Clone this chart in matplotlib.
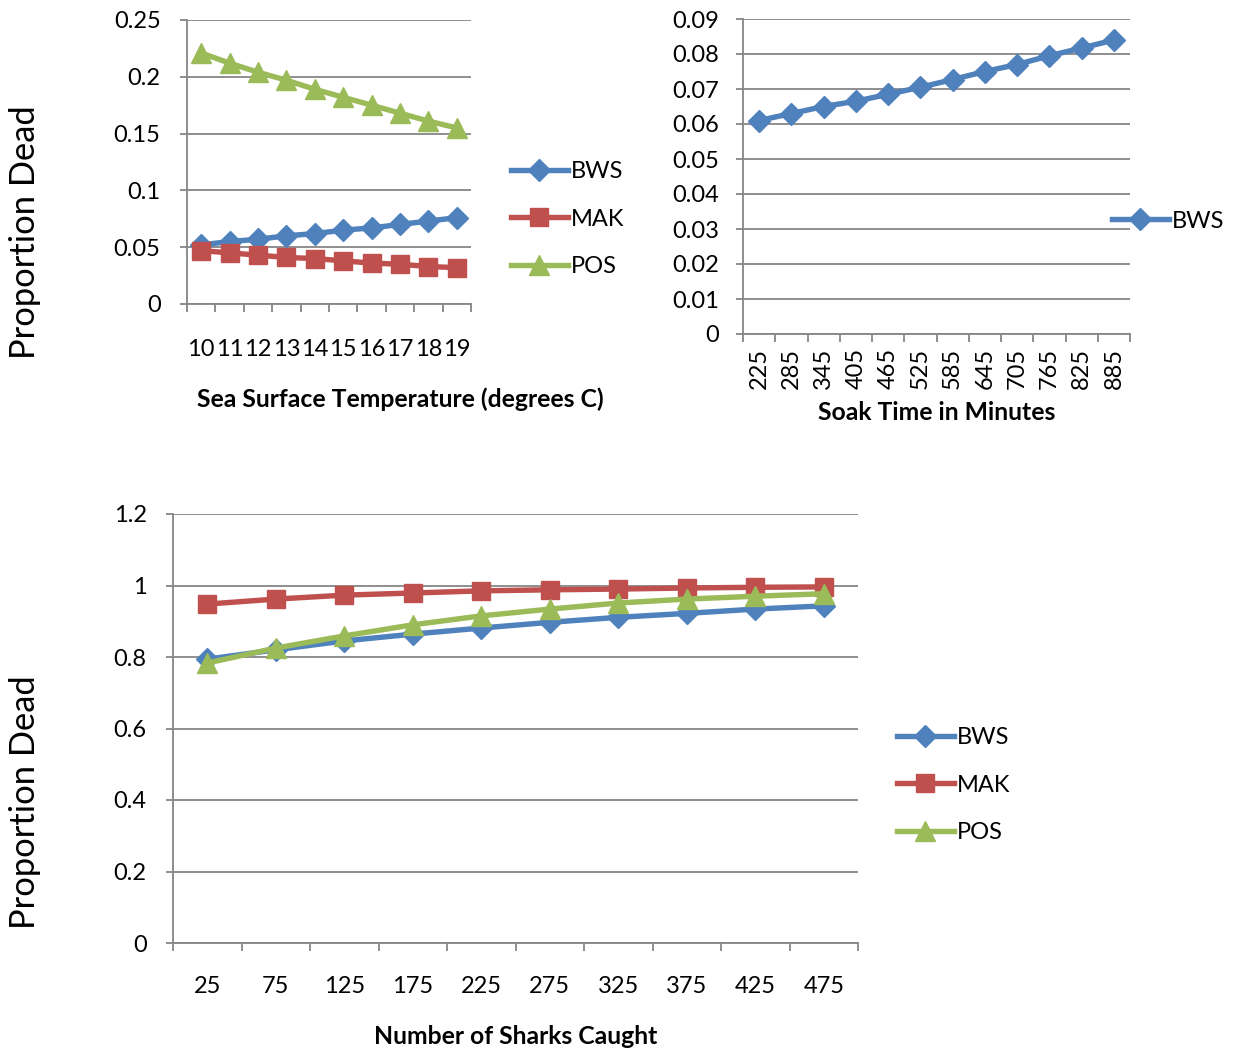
import matplotlib
matplotlib.use("Agg")
import matplotlib.pyplot as plt
from matplotlib.lines import Line2D
import numpy as np

plt.rcParams['font.family'] = ['Lato', 'DejaVu Sans']

# ---------------- data ----------------
sst_labels = ["10", "11", "12", "13", "14", "15", "16", "17", "18", "19"]
sst_bws = [0.052, 0.055, 0.057, 0.060, 0.062, 0.065, 0.067, 0.070, 0.073, 0.076]
sst_mak = [0.047, 0.045, 0.043, 0.041, 0.040, 0.038, 0.036, 0.035, 0.033, 0.032]
sst_pos = [0.221, 0.212, 0.204, 0.197, 0.189, 0.182, 0.175, 0.168, 0.161, 0.155]

soak_labels = ["225", "285", "345", "405", "465", "525", "585", "645", "705", "765", "825", "885"]
soak_bws = [0.061, 0.063, 0.065, 0.0665, 0.0685, 0.0705, 0.0727, 0.075, 0.077, 0.0795, 0.0817, 0.084]

sharks_labels = ["25", "75", "125", "175", "225", "275", "325", "375", "425", "475"]
sharks_bws = [0.794, 0.820, 0.845, 0.864, 0.881, 0.897, 0.911, 0.922, 0.934, 0.943]
sharks_mak = [0.948, 0.962, 0.973, 0.979, 0.985, 0.988, 0.990, 0.993, 0.995, 0.996]
sharks_pos = [0.783, 0.825, 0.859, 0.890, 0.915, 0.934, 0.951, 0.962, 0.970, 0.977]

C_BWS = '#4F81BD'
C_MAK = '#C0504D'
C_POS = '#9BBB59'
GRID = '#868686'

W, H = 1233, 1050
fig = plt.figure(figsize=(W / 100, H / 100), dpi=100)


def rect(l, t, r, b):
    return [l / W, 1 - b / H, (r - l) / W, (b - t) / H]


style = {
    'BWS': dict(color=C_BWS, marker='D', markersize=11.5),
    'MAK': dict(color=C_MAK, marker='s', markersize=13),
    'POS': dict(color=C_POS, marker='^', markersize=14),
}
LW = 3.9
TICKFS = 17


def setup(ax, labels, ymax, ystep, xpad, rot=0):
    n = len(labels)
    x = np.arange(n)
    ax.set_xlim(-0.5, n - 0.5)
    ax.set_ylim(0, ymax)
    yt = np.round(np.arange(0, ymax + ystep / 2, ystep), 6)
    ax.set_yticks(yt)
    ax.set_yticklabels([('%g' % v) for v in yt])
    ax.yaxis.grid(True, color=GRID, lw=1.3)
    ax.set_axisbelow(True)
    for s in ['top', 'right']:
        ax.spines[s].set_visible(False)
    for s in ['left', 'bottom']:
        ax.spines[s].set_color(GRID)
        ax.spines[s].set_linewidth(1.3)
    ax.set_xticks(x)
    ax.set_xticklabels(labels, rotation=rot)
    ax.set_xticks(np.arange(-0.5, n), minor=True)
    ax.tick_params(axis='x', which='major', length=0, pad=xpad, labelsize=TICKFS)
    ax.tick_params(axis='x', which='minor', length=6, width=1.3, color=GRID, direction='out')
    ax.tick_params(axis='y', length=5, width=1.3, color=GRID, pad=14, labelsize=TICKFS)
    return x


def legend(ax, names, xl, yc):
    handles = [Line2D([], [], lw=LW, **style[n]) for n in names]
    ax.legend(handles, names, loc='center left', bbox_to_anchor=(xl / W, 1 - yc / H),
              bbox_transform=fig.transFigure, frameon=False, fontsize=TICKFS,
              handlelength=2.4, handletextpad=0.15, labelspacing=1.12,
              borderpad=0, borderaxespad=0)


# ---------- panel 1 ----------
ax1 = fig.add_axes(rect(187, 20, 471, 304))
x = setup(ax1, sst_labels, 0.25, 0.05, 25)
ax1.plot(x, sst_bws, lw=LW, **style['BWS'])
ax1.plot(x, sst_mak, lw=LW, **style['MAK'])
ax1.plot(x, sst_pos, lw=LW, **style['POS'])
legend(ax1, ['BWS', 'MAK', 'POS'], 511, 219)
fig.text(400 / W, 1 - 399 / H, 'Sea Surface Temperature (degrees C)', ha='center', va='center',
         fontsize=17.8, fontweight='bold')
fig.text(25 / W, 1 - 232 / H, 'Proportion Dead', rotation=90, ha='center', va='center', fontsize=24.8)

# ---------- panel 2 ----------
ax2 = fig.add_axes(rect(743, 19, 1130, 334))
x = setup(ax2, soak_labels, 0.09, 0.01, 10, rot=90)
ax2.set_yticklabels(['0'] + ['%.2f' % v for v in np.arange(0.01, 0.0901, 0.01)])
ax2.tick_params(axis='y', pad=12)
ax2.plot(x, soak_bws, lw=LW, **style['BWS'])
legend(ax2, ['BWS'], 1112, 221)
fig.text(937 / W, 1 - 413 / H, 'Soak Time in Minutes', ha='center', va='center',
         fontsize=17.8, fontweight='bold')

# ---------- panel 3 ----------
ax3 = fig.add_axes(rect(173, 514, 858, 943))
x = setup(ax3, sharks_labels, 1.2, 0.2, 24)
ax3.plot(x, sharks_bws, lw=LW, **style['BWS'])
ax3.plot(x, sharks_mak, lw=LW, **style['MAK'])
ax3.plot(x, sharks_pos, lw=LW, **style['POS'])
legend(ax3, ['BWS', 'MAK', 'POS'], 897, 785)
fig.text(516 / W, 1 - 1036 / H, 'Number of Sharks Caught', ha='center', va='center',
         fontsize=17.8, fontweight='bold')
fig.text(25 / W, 1 - 802 / H, 'Proportion Dead', rotation=90, ha='center', va='center', fontsize=24.8)

fig.savefig('out.png', dpi=100)
